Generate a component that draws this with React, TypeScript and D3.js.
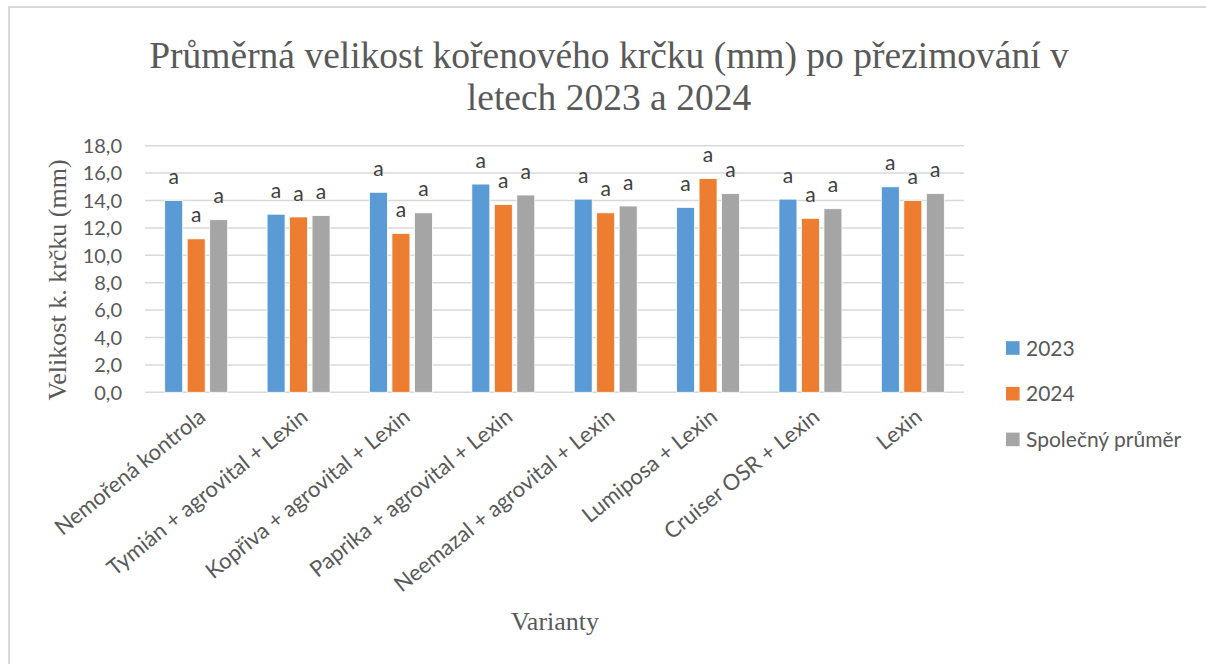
import React from 'react';
import * as d3 from 'd3';

const categories = [
  'Nemořená kontrola',
  'Tymián + agrovital + Lexin',
  'Kopřiva + agrovital + Lexin',
  'Paprika + agrovital + Lexin',
  'Neemazal + agrovital + Lexin',
  'Lumiposa + Lexin',
  'Cruiser OSR + Lexin',
  'Lexin',
];
const seriesNames = ['2023', '2024', 'Společný průměr'];
const values2023 = [14.0, 13.0, 14.6, 15.2, 14.1, 13.5, 14.1, 15.0];
const values2024 = [11.2, 12.8, 11.6, 13.7, 13.1, 15.6, 12.7, 14.0];
const valuesMean = [12.6, 12.9, 13.1, 14.4, 13.6, 14.5, 13.4, 14.5];
const letters2023 = ['a', 'a', 'a', 'a', 'a', 'a', 'a', 'a'];
const letters2024 = ['a', 'a', 'a', 'a', 'a', 'a', 'a', 'a'];
const lettersMean = ['a', 'a', 'a', 'a', 'a', 'a', 'a', 'a'];
const yTickValues = [0, 2, 4, 6, 8, 10, 12, 14, 16, 18];
const colors = ['#5B9BD5', '#ED7D31', '#A5A5A5'];

const W = 1206;
const H = 664;
const plot = { left: 145, right: 964, top: 145.7, bottom: 392.3 };
const sans = 'Lato, "Open Sans", sans-serif';
const serif = '"Liberation Serif", "Times New Roman", serif';
const textColor = '#595959';

const App = () => {
  const seriesValues = [values2023, values2024, valuesMean];
  const seriesLetters = [letters2023, letters2024, lettersMean];

  const x0 = d3.scaleBand<string>()
    .domain(categories)
    .range([plot.left, plot.right])
    .paddingInner(0.385)
    .paddingOuter(0.1925);
  const x1 = d3.scaleBand<string>()
    .domain(seriesNames)
    .range([0, x0.bandwidth()])
    .paddingInner(0.2);
  const y = d3.scaleLinear().domain([0, 18]).range([plot.bottom, plot.top]);
  const fmt = (v: number) => d3.format('.1f')(v).replace('.', ',');

  return (
    <svg width={W} height={H} style={{ position: 'absolute', left: 0, top: 0, background: '#fff' }}>
      {/* chart frame */}
      <rect x={9} y={7} width={W + 10} height={H + 10} fill="#fff" stroke="#d9d9d9" strokeWidth={2} />

      <text x={609} y={68} textAnchor="middle" fontFamily={serif} fontSize={37.5} fill={textColor}>
        Průměrná velikost kořenového krčku (mm) po přezimování v
      </text>
      <text x={609} y={110} textAnchor="middle" fontFamily={serif} fontSize={37.5} fill={textColor}>
        letech 2023 a 2024
      </text>

      {/* gridlines + y ticks */}
      {yTickValues.map((t) => (
        <g key={t}>
          <line x1={plot.left} x2={plot.right} y1={y(t)} y2={y(t)} stroke="#d9d9d9" strokeWidth={1.5} />
          <text x={122} y={y(t)} dy="0.36em" textAnchor="end" fontFamily={sans} fontSize={20} fill={textColor}>
            {fmt(t)}
          </text>
        </g>
      ))}

      {/* bars */}
      {seriesNames.map((s, si) => (
        <g key={s}>
          {categories.map((c, ci) => {
            const v = seriesValues[si][ci];
            const bx = (x0(c) ?? 0) + (x1(s) ?? 0);
            return (
              <g key={c}>
                <rect x={bx} y={y(v)} width={x1.bandwidth()} height={y(0) - y(v)} fill={colors[si]} stroke="#fff" strokeWidth={0.8} />
                <text x={bx + x1.bandwidth() / 2} y={y(v) - 24} dy="0.36em" textAnchor="middle" fontFamily={sans} fontSize={21} fill="#404040">
                  {seriesLetters[si][ci]}
                </text>
              </g>
            );
          })}
        </g>
      ))}

      {/* category labels */}
      {categories.map((c) => {
        const cx = (x0(c) ?? 0) + x0.bandwidth() / 2 + 1;
        const cy = plot.bottom + 15;
        return (
          <text key={c} transform={`translate(${cx},${cy}) rotate(-39)`} dy="0.7em" textAnchor="end" fontFamily={sans} fontSize={22} fill={textColor}>
            {c}
          </text>
        );
      })}

      <text transform={`translate(66,280) rotate(-90)`} textAnchor="middle" fontFamily={serif} fontSize={26} fill={textColor}>
        Velikost k. krčku (mm)
      </text>
      <text x={555} y={630} textAnchor="middle" fontFamily={serif} fontSize={26} fill={textColor}>
        Varianty
      </text>

      {/* legend */}
      {seriesNames.map((s, i) => (
        <g key={s} transform={`translate(1006,${348 + i * 45.7})`}>
          <rect x={0} y={-6.8} width={13.6} height={13.6} fill={colors[i]} />
          <text x={20} y={0} dy="0.36em" fontFamily={sans} fontSize={21} fill={textColor}>
            {s}
          </text>
        </g>
      ))}
    </svg>
  );
};

export default App;
